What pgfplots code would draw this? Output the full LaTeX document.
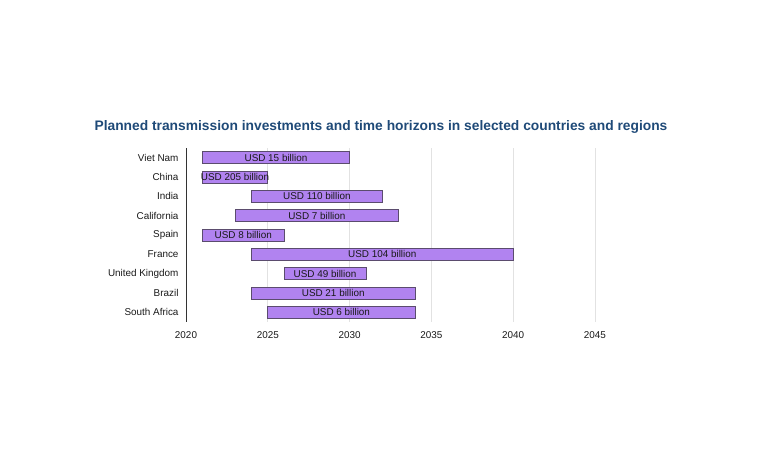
\documentclass[border=0pt]{standalone}
\usepackage{fontspec}
\setmainfont{Liberation Sans}
\usepackage{pgfplots}
\usepackage{pgfplotstable}
\pgfplotsset{compat=1.18}

\definecolor{barfill}{HTML}{B183F0}
\definecolor{barline}{HTML}{5B4C6E}
\definecolor{titleblue}{HTML}{1F4A78}
\definecolor{gridgray}{HTML}{E2E2E2}

% start year, duration (years), bar centre, label
\pgfplotstableread{
idx start dur mid label
0 2021 9  2025.5 {USD 15 billion}
1 2021 4  2023   {USD 205 billion}
2 2024 8  2028   {USD 110 billion}
3 2023 10 2028   {USD 7 billion}
4 2021 5  2023.5 {USD 8 billion}
5 2024 16 2032   {USD 104 billion}
6 2026 5  2028.5 {USD 49 billion}
7 2024 10 2029   {USD 21 billion}
8 2025 9  2029.5 {USD 6 billion}
}\plans

\newcommand{\smallfont}{\fontsize{9.9}{11}\selectfont}

\begin{document}
\begin{tikzpicture}[x=1pt,y=1pt]
\path[use as bounding box] (0,0) rectangle (770,460);
\node[anchor=base, font=\bfseries\fontsize{13.8}{15}\selectfont, text=titleblue]
  at (381,329) {Planned transmission investments and time horizons in selected countries and regions};

\pgfplotsset{frame/.style={
  at={(186pt,138pt)}, anchor=south west, scale only axis,
  width=458pt, height=174pt,
  xmin=2020, xmax=2048, ymin=-0.5, ymax=8.5, y dir=reverse}}

\begin{axis}[frame,
  xbar stacked, bar width=12pt,
  axis x line*=bottom, axis y line*=left,
  x axis line style={draw=none},
  y axis line style={draw=black!80, line width=0.8pt},
  xtick={2020,2025,...,2045},
  ytick={0,...,8},
  yticklabels={Viet Nam,China,India,California,Spain,France,United Kingdom,Brazil,South Africa},
  major tick length=0pt,
  xmajorgrids, grid style={gridgray, line width=0.6pt},
  tick label style={font=\smallfont, text=black!90},
  x tick label style={yshift=-6pt},
  y tick label style={xshift=-4pt},
  /pgf/number format/assume math mode=true,
  xticklabel={\pgfmathprintnumber[1000 sep={}]{\tick}},
]
\addplot[draw=none, fill=none] table[x=start, y=idx] {\plans};
\addplot[fill=barfill, draw=barline, line width=0.6pt] table[x=dur, y=idx] {\plans};
\end{axis}

\begin{axis}[frame, hide axis]
\addplot[draw=none, mark=none, nodes near coords, point meta=explicit symbolic,
  nodes near coords style={anchor=center, font=\smallfont, text=black!90, inner sep=0pt}]
  table[x=mid, y=idx, meta=label] {\plans};
\end{axis}
\end{tikzpicture}
\end{document}
